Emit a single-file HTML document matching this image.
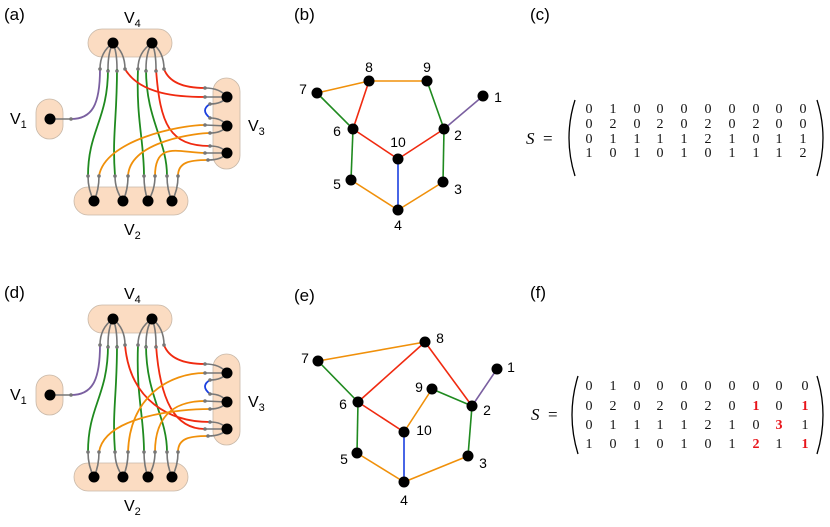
<!DOCTYPE html>
<html><head><meta charset="utf-8">
<style>
html,body{margin:0;padding:0;background:#fff;}
body{width:830px;height:527px;position:relative;overflow:hidden;font-family:"Liberation Sans",sans-serif;}
svg{position:absolute;left:0;top:0;}
</style></head><body>
<svg width="830" height="527" viewBox="0 0 830 527" xmlns="http://www.w3.org/2000/svg" font-family="Liberation Sans, sans-serif">
<defs>
<g id="boxes">
  <rect x="88" y="29" width="84" height="28" rx="14" fill="#fbdcc2" stroke="#c8b8a8" stroke-width="0.8"/>
  <rect x="36" y="99" width="27" height="40" rx="13.5" fill="#fbdcc2" stroke="#c8b8a8" stroke-width="0.8"/>
  <rect x="213" y="78" width="27" height="91" rx="13.5" fill="#fbdcc2" stroke="#c8b8a8" stroke-width="0.8"/>
  <rect x="74" y="187" width="114" height="28" rx="14" fill="#fbdcc2" stroke="#c8b8a8" stroke-width="0.8"/>
</g>
<g id="gray" fill="none" stroke="#777" stroke-width="1.6">
  <path d="M113,43 Q100,52 100,69"/><path d="M113,43 Q108,52 108,69"/><path d="M113,43 Q117,52 117,69"/><path d="M113,43 Q125,52 125,69"/>
  <path d="M152,43 Q138,52 138,69"/><path d="M152,43 Q146,52 146,69"/><path d="M152,43 Q156,52 156,69"/><path d="M152,43 Q164,52 164,69"/>
  <path d="M50,119 L71,119"/>
  <path d="M94,201 Q88,190 88,176"/><path d="M94,201 Q99,190 99,176"/>
  <path d="M123,201 Q115,190 115,176"/><path d="M123,201 Q128,190 128,176"/>
  <path d="M148,201 Q144,190 144,176"/><path d="M148,201 Q155,190 155,176"/>
  <path d="M172,201 Q167,190 167,176"/><path d="M172,201 Q178,190 178,176"/>
  <path d="M227,97 Q220,88 205,88"/><path d="M227,97 L205,97"/><path d="M227,97 Q222,104 210,104"/>
  <path d="M227,126 Q222,118 210,118"/><path d="M227,126 L205,125"/><path d="M227,126 Q222,133 210,133"/>
  <path d="M227,153 Q222,146 210,146"/><path d="M227,153 L205,153"/><path d="M227,153 Q222,160 208,160"/>
</g>
<g id="common" fill="none" stroke-width="1.8">
  <path d="M100,69 C100,105 92,119 71,119" stroke="#7a5fa0"/>
  <path d="M108,69 C108,120 88,130 88,176" stroke="#1f8a1f"/>
  <path d="M117,69 C117,120 112,135 115,176" stroke="#1f8a1f"/>
  <path d="M138,69 C136,120 144,140 144,176" stroke="#1f8a1f"/>
  <path d="M146,69 C146,120 167,140 167,176" stroke="#1f8a1f"/>
  <path d="M210,104 Q200,110 210,118" stroke="#1a3fe0"/>
</g>
<g id="dots" fill="#777">
  <circle cx="100" cy="69" r="1.8"/><circle cx="108" cy="71" r="1.8"/><circle cx="117" cy="71" r="1.8"/><circle cx="125" cy="69" r="1.8"/>
  <circle cx="138" cy="69" r="1.8"/><circle cx="146" cy="71" r="1.8"/><circle cx="156" cy="71" r="1.8"/><circle cx="164" cy="69" r="1.8"/>
  <circle cx="71" cy="119" r="1.8"/>
  <circle cx="88" cy="176" r="1.8"/><circle cx="99" cy="176" r="1.8"/><circle cx="115" cy="176" r="1.8"/><circle cx="128" cy="176" r="1.8"/>
  <circle cx="144" cy="176" r="1.8"/><circle cx="155" cy="176" r="1.8"/><circle cx="167" cy="176" r="1.8"/><circle cx="178" cy="176" r="1.8"/>
  <circle cx="205" cy="88" r="1.8"/><circle cx="205" cy="97" r="1.8"/><circle cx="210" cy="104" r="1.8"/>
  <circle cx="210" cy="118" r="1.8"/><circle cx="205" cy="125" r="1.8"/><circle cx="210" cy="133" r="1.8"/>
  <circle cx="210" cy="146" r="1.8"/><circle cx="205" cy="153" r="1.8"/><circle cx="208" cy="160" r="1.8"/>
</g>
<g id="nodes" fill="#000">
  <circle cx="113" cy="43" r="5.5"/><circle cx="152" cy="43" r="5.5"/><circle cx="50" cy="119" r="5.5"/>
  <circle cx="227" cy="97" r="5.5"/><circle cx="227" cy="126" r="5.5"/><circle cx="227" cy="153" r="5.5"/>
  <circle cx="94" cy="201" r="5.5"/><circle cx="123" cy="201" r="5.5"/><circle cx="148" cy="201" r="5.5"/><circle cx="172" cy="201" r="5.5"/>
</g>
<g id="vlabels" font-size="16" fill="#000">
  <text x="124" y="23">V<tspan font-size="11" dy="4">4</tspan></text>
  <text x="10" y="124">V<tspan font-size="11" dy="4">1</tspan></text>
  <text x="248" y="131">V<tspan font-size="11" dy="4">3</tspan></text>
  <text x="124" y="235">V<tspan font-size="11" dy="4">2</tspan></text>
</g>
</defs>

<text x="4" y="20" font-size="17">(a)</text>
<text x="294" y="20" font-size="17">(b)</text>
<text x="530" y="20" font-size="17">(c)</text>
<text x="4" y="298" font-size="17">(d)</text>
<text x="294" y="301" font-size="17">(e)</text>
<text x="530" y="298" font-size="17">(f)</text>

<g>
  <use href="#boxes"/><use href="#gray"/><use href="#common"/>
  <g fill="none" stroke-width="1.8">
    <path d="M125,69 C140,95 180,97 205,97" stroke="#f02a10"/>
    <path d="M164,69 C170,85 190,88 205,88" stroke="#f02a10"/>
    <path d="M156,69 C160,125 170,146 210,146" stroke="#f02a10"/>
    <path d="M99,176 C105,140 180,125 205,125" stroke="#f0900a"/>
    <path d="M128,176 C130,140 200,133 210,133" stroke="#f0900a"/>
    <path d="M155,176 C155,140 180,153 205,153" stroke="#f0900a"/>
    <path d="M178,176 C178,162 190,160 208,160" stroke="#f0900a"/>
  </g>
  <use href="#dots"/><use href="#nodes"/><use href="#vlabels"/>
</g>
<g transform="translate(0,276)">
  <use href="#boxes"/><use href="#gray"/><use href="#common"/>
  <g fill="none" stroke-width="1.8">
    <path d="M125,69 C130,125 170,146 210,146" stroke="#f02a10"/>
    <path d="M164,69 C170,85 190,88 205,88" stroke="#f02a10"/>
    <path d="M156,69 C160,125 175,153 205,153" stroke="#f02a10"/>
    <path d="M99,176 C105,140 180,133 210,133" stroke="#f0900a"/>
    <path d="M128,176 C130,120 170,97 205,97" stroke="#f0900a"/>
    <path d="M155,176 C155,135 180,125 205,125" stroke="#f0900a"/>
    <path d="M178,176 C178,162 190,160 208,160" stroke="#f0900a"/>
  </g>
  <use href="#dots"/><use href="#nodes"/><use href="#vlabels"/>
</g>

<g stroke-width="1.6" fill="none">
  <line x1="317" y1="93" x2="369" y2="81" stroke="#f0900a"/>
  <line x1="369" y1="81" x2="427" y2="81" stroke="#f0900a"/>
  <line x1="317" y1="93" x2="353" y2="129" stroke="#1f8a1f"/>
  <line x1="369" y1="81" x2="353" y2="129" stroke="#f02a10"/>
  <line x1="427" y1="81" x2="444" y2="129" stroke="#1f8a1f"/>
  <line x1="483" y1="96" x2="444" y2="129" stroke="#7a5fa0"/>
  <line x1="353" y1="129" x2="398" y2="159" stroke="#f02a10"/>
  <line x1="398" y1="159" x2="444" y2="129" stroke="#f02a10"/>
  <line x1="353" y1="129" x2="351" y2="180" stroke="#1f8a1f"/>
  <line x1="444" y1="129" x2="443" y2="182" stroke="#1f8a1f"/>
  <line x1="398" y1="159" x2="398" y2="210" stroke="#1a3fe0"/>
  <line x1="351" y1="180" x2="398" y2="210" stroke="#f0900a"/>
  <line x1="443" y1="182" x2="398" y2="210" stroke="#f0900a"/>
</g>
<g fill="#000">
  <circle cx="317" cy="93" r="5.5"/><circle cx="369" cy="81" r="5.5"/><circle cx="427" cy="81" r="5.5"/><circle cx="483" cy="96" r="5.5"/>
  <circle cx="353" cy="129" r="5.5"/><circle cx="444" cy="129" r="5.5"/><circle cx="398" cy="159" r="5.5"/>
  <circle cx="351" cy="180" r="5.5"/><circle cx="443" cy="182" r="5.5"/><circle cx="398" cy="210" r="5.5"/>
</g>
<g font-size="14" fill="#000" text-anchor="middle">
  <text x="369" y="72">8</text><text x="427" y="72">9</text><text x="303" y="94">7</text><text x="498" y="102">1</text>
  <text x="337" y="136">6</text><text x="458" y="140">2</text><text x="398" y="147">10</text>
  <text x="337" y="189">5</text><text x="458" y="194">3</text><text x="398" y="230">4</text>
</g>

<g stroke-width="1.6" fill="none">
  <line x1="318" y1="361" x2="425" y2="342" stroke="#f0900a"/>
  <line x1="318" y1="361" x2="358" y2="402" stroke="#1f8a1f"/>
  <line x1="358" y1="402" x2="425" y2="342" stroke="#f02a10"/>
  <line x1="425" y1="342" x2="472" y2="406" stroke="#f02a10"/>
  <line x1="497" y1="369" x2="472" y2="406" stroke="#7a5fa0"/>
  <line x1="432" y1="389" x2="472" y2="406" stroke="#1f8a1f"/>
  <line x1="432" y1="389" x2="404" y2="432" stroke="#f0900a"/>
  <line x1="358" y1="402" x2="404" y2="432" stroke="#f02a10"/>
  <line x1="358" y1="402" x2="357" y2="453" stroke="#1f8a1f"/>
  <line x1="404" y1="432" x2="404" y2="482" stroke="#1a3fe0"/>
  <line x1="357" y1="453" x2="404" y2="482" stroke="#f0900a"/>
  <line x1="468" y1="456" x2="404" y2="482" stroke="#f0900a"/>
  <line x1="468" y1="456" x2="472" y2="406" stroke="#1f8a1f"/>
</g>
<g fill="#000">
  <circle cx="318" cy="361" r="5.5"/><circle cx="425" cy="342" r="5.5"/><circle cx="497" cy="369" r="5.5"/><circle cx="432" cy="389" r="5.5"/>
  <circle cx="358" cy="402" r="5.5"/><circle cx="472" cy="406" r="5.5"/><circle cx="404" cy="432" r="5.5"/>
  <circle cx="357" cy="453" r="5.5"/><circle cx="468" cy="456" r="5.5"/><circle cx="404" cy="482" r="5.5"/>
</g>
<g font-size="14" fill="#000" text-anchor="middle">
  <text x="440" y="343">8</text><text x="305" y="363">7</text><text x="511" y="372">1</text><text x="419" y="392">9</text>
  <text x="343" y="409">6</text><text x="487" y="415">2</text><text x="424" y="435">10</text>
  <text x="344" y="464">5</text><text x="483" y="468">3</text><text x="404" y="505">4</text>
</g>

<path d="M575,100 Q563,138 575,176" fill="none" stroke="#000" stroke-width="1.3"/>
<path d="M817,100 Q829,138 817,176" fill="none" stroke="#000" stroke-width="1.3"/>
<path d="M578,376 Q566,415 578,454" fill="none" stroke="#000" stroke-width="1.3"/>
<path d="M817,376 Q829,415 817,454" fill="none" stroke="#000" stroke-width="1.3"/>
<g font-family="Liberation Serif, serif" font-size="17" fill="#000">
  <text x="526" y="144" font-style="italic">S</text><text x="543" y="144">=</text>
  <text x="531" y="420" font-style="italic">S</text><text x="548" y="420">=</text>
</g>
<g font-family="Liberation Serif, serif" font-size="14" fill="#111" text-anchor="middle">
  <text x="589" y="113">0</text><text x="613" y="113">1</text><text x="637" y="113">0</text><text x="660" y="113">0</text><text x="684" y="113">0</text><text x="708" y="113">0</text><text x="732" y="113">0</text><text x="756" y="113">0</text><text x="779" y="113">0</text><text x="803" y="113">0</text>
  <text x="589" y="128">0</text><text x="613" y="128">2</text><text x="637" y="128">0</text><text x="660" y="128">2</text><text x="684" y="128">0</text><text x="708" y="128">2</text><text x="732" y="128">0</text><text x="756" y="128">2</text><text x="779" y="128">0</text><text x="803" y="128">0</text>
  <text x="589" y="143">0</text><text x="613" y="143">1</text><text x="637" y="143">1</text><text x="660" y="143">1</text><text x="684" y="143">1</text><text x="708" y="143">2</text><text x="732" y="143">1</text><text x="756" y="143">0</text><text x="779" y="143">1</text><text x="803" y="143">1</text>
  <text x="589" y="157">1</text><text x="613" y="157">0</text><text x="637" y="157">1</text><text x="660" y="157">0</text><text x="684" y="157">1</text><text x="708" y="157">0</text><text x="732" y="157">1</text><text x="756" y="157">1</text><text x="779" y="157">1</text><text x="803" y="157">2</text>

  <text x="589" y="390">0</text><text x="613" y="390">1</text><text x="637" y="390">0</text><text x="660" y="390">0</text><text x="684" y="390">0</text><text x="708" y="390">0</text><text x="732" y="390">0</text><text x="756" y="390">0</text><text x="779" y="390">0</text><text x="805" y="390">0</text>
  <text x="589" y="410">0</text><text x="613" y="410">2</text><text x="637" y="410">0</text><text x="660" y="410">2</text><text x="684" y="410">0</text><text x="708" y="410">2</text><text x="732" y="410">0</text><text x="756" y="410" fill="#e8141a" font-weight="bold">1</text><text x="779" y="410">0</text><text x="805" y="410" fill="#e8141a" font-weight="bold">1</text>
  <text x="589" y="429">0</text><text x="613" y="429">1</text><text x="637" y="429">1</text><text x="660" y="429">1</text><text x="684" y="429">1</text><text x="708" y="429">2</text><text x="732" y="429">1</text><text x="756" y="429">0</text><text x="779" y="429" fill="#e8141a" font-weight="bold">3</text><text x="805" y="429">1</text>
  <text x="589" y="448">1</text><text x="613" y="448">0</text><text x="637" y="448">1</text><text x="660" y="448">0</text><text x="684" y="448">1</text><text x="708" y="448">0</text><text x="732" y="448">1</text><text x="756" y="448" fill="#e8141a" font-weight="bold">2</text><text x="779" y="448">1</text><text x="805" y="448" fill="#e8141a" font-weight="bold">1</text>
</g>
</svg>
</body></html>
